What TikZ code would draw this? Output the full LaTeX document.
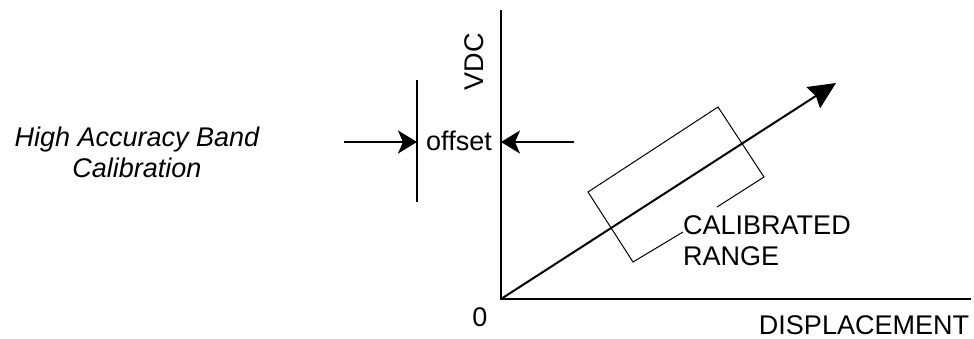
\documentclass[tikz,border=0pt]{standalone}
\usepackage{fontspec}
\setmainfont{Liberation Sans}
\usetikzlibrary{arrows.meta}
\begin{document}
\begin{tikzpicture}[x=1pt,y=-1pt,
  axisline/.style={line width=2pt, line cap=butt},
  thinline/.style={line width=1pt},
  lbl/.style={inner sep=0pt, font=\fontsize{27}{31}\selectfont},
  smallarrow/.style={line width=2pt, -{Stealth[length=19pt,width=23pt,inset=5pt]}},
  bigarrow/.style={line width=2pt, -{Stealth[length=27pt,width=25pt,inset=3pt]}}]
\useasboundingbox (0,0) rectangle (974,339);
% axes
\coordinate (O) at (501,299);
\coordinate (ytop) at (501,10);
\coordinate (xend) at (971,299);
\draw[axisline] (ytop) -- (O) -- (xend);
% offset marker
\coordinate (offtop) at (417,80);
\coordinate (offbot) at (417,202);
\draw[axisline] (offtop) -- (offbot);
\coordinate (la) at (344,142);
\coordinate (lb) at (417,142);
\coordinate (ra) at (574,142);
\coordinate (rb) at (501,142);
\draw[smallarrow] (la) -- (lb);
\draw[smallarrow] (ra) -- (rb);
\node[lbl, anchor=base] (offset) at (459,151) {offset};
% labels
\node[lbl, rotate=90, anchor=base] (vdc) at (483,62) {VDC};
\node[lbl] (zero) at (480,317) {0};
\node[lbl, anchor=base] (disp) at (864,334) {DISPLACEMENT};
\node[lbl, anchor=base, align=center, font=\fontsize{27}{31}\selectfont\itshape] (hab) at (137,178) {High Accuracy Band\\Calibration};
\node[lbl, anchor=base west, align=left] (cal) at (683,265) {CALIBRATED\\RANGE};
% calibrated range rectangle
\coordinate (r1) at (588,192);
\coordinate (r2) at (718,107);
\coordinate (r3) at (764,177);
\coordinate (r4) at (633,262);
\coordinate (g1) at (683,232);
\coordinate (g2) at (717,207);
\draw[thinline] (g1) -- (r4) -- (r1) -- (r2) -- (r3) -- (g2);
% main arrow
\coordinate (tip) at (836,83);
\draw[bigarrow] (O) -- (tip);
\end{tikzpicture}
\end{document}
